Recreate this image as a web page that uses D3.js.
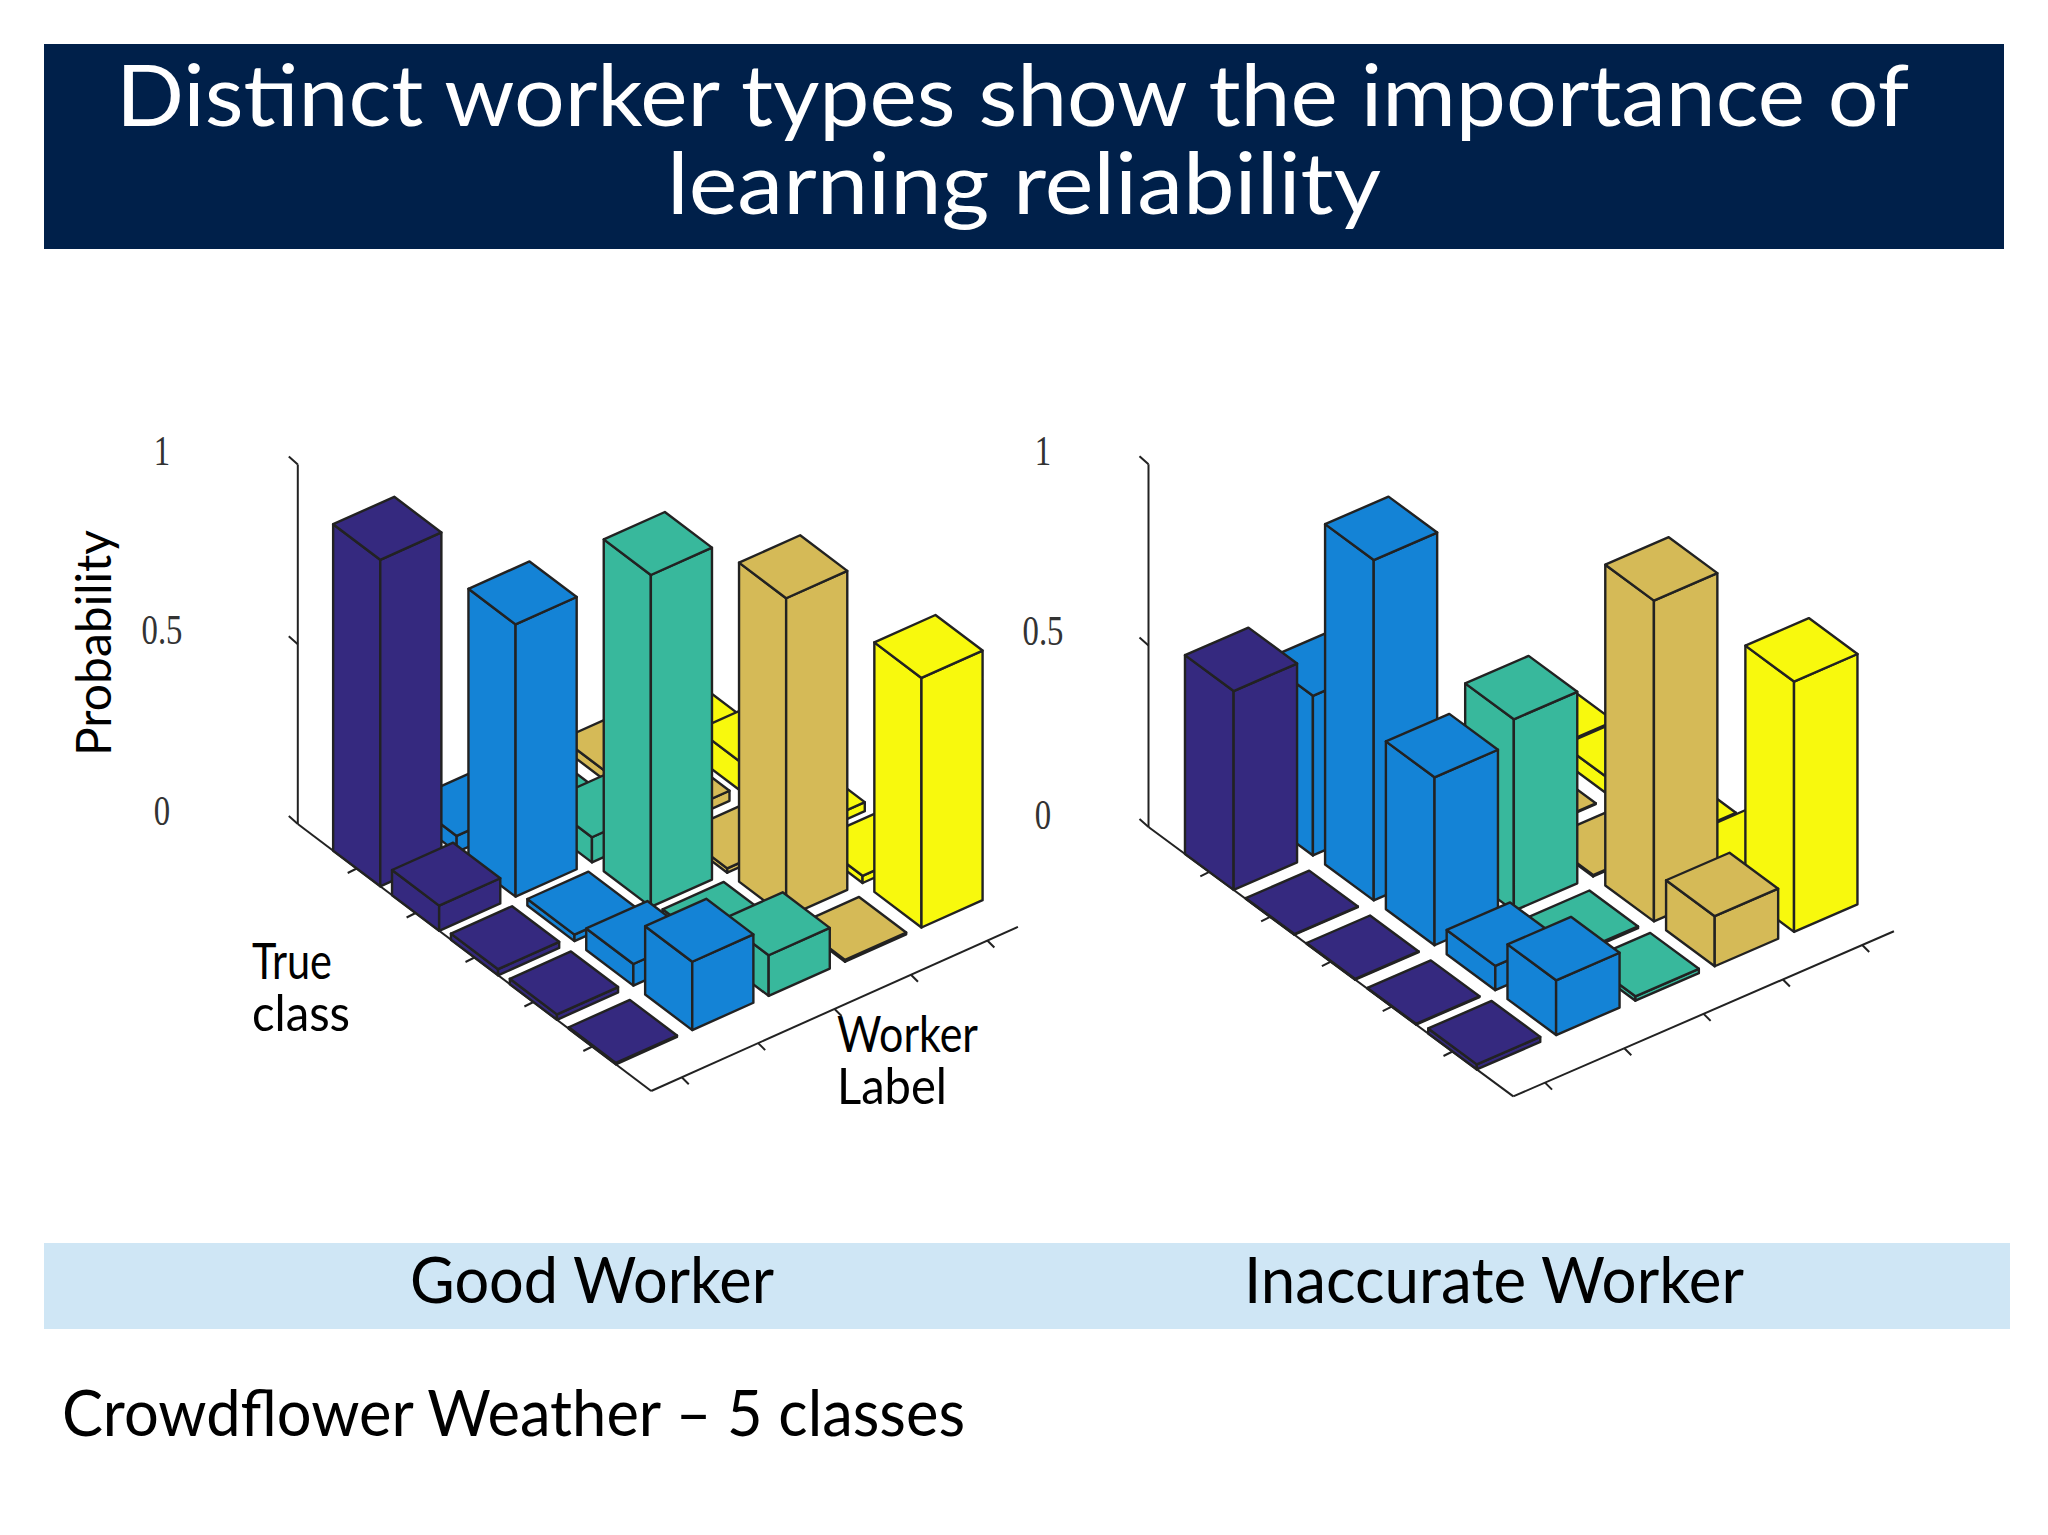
<!DOCTYPE html>
<html><head><meta charset="utf-8">
<script src="https://cdn.jsdelivr.net/npm/d3@7"></script>
<style>html,body{margin:0;padding:0;background:#fff}svg{display:block}</style>
</head><body><svg id="c" width="2048" height="1535"></svg>
<script>
const workerLabels = [1,2,3,4,5];
const classLabels = [1,2,3,4,5];
const zTicks = [0,0.5,1];
const workerColors = ["#35297f","#1483d6","#38b89c","#d5ba57","#f8f90d"];
// rows: true class 1..5, columns: worker label 1..5
const goodClass1 = [0.908,0.045,0.010,0.026,0.005];
const goodClass2 = [0.070,0.757,0.070,0.028,0.080];
const goodClass3 = [0.017,0.018,0.923,0.012,0.025];
const goodClass4 = [0.015,0.060,0.018,0.887,0.020];
const goodClass5 = [0.004,0.190,0.113,0.005,0.694];
const inaccClass1 = [0.548,0.440,0.010,0.003,0.010];
const inaccClass2 = [0.002,0.938,0.010,0.002,0.045];
const inaccClass3 = [0.002,0.463,0.528,0.004,0.005];
const inaccClass4 = [0.002,0.067,0.005,0.884,0.040];
const inaccClass5 = [0.014,0.151,0.012,0.138,0.690];
const good = [goodClass1,goodClass2,goodClass3,goodClass4,goodClass5];
const inaccurate = [inaccClass1,inaccClass2,inaccClass3,inaccClass4,inaccClass5];
const barWidth = 0.8;

const svg = d3.select("#c");
const navy = "#00204a";
svg.append("rect").attr("x",44).attr("y",44).attr("width",1960).attr("height",205).attr("fill",navy);
svg.append("rect").attr("x",44).attr("y",1243).attr("width",1966).attr("height",86).attr("fill","#cfe6f5");

function text(s,x,y,size,opts={}){
  const t = svg.append("text").attr("x",x).attr("y",y).text(s)
    .attr("font-family",opts.family||"Lato").attr("font-size",size)
    .attr("fill",opts.fill||"#000").attr("text-anchor",opts.anchor||"start");
  if(opts.len){t.attr("textLength",opts.len).attr("lengthAdjust","spacingAndGlyphs");}
  if(opts.transform)t.attr("transform",opts.transform);
  return t;
}
text("Distinct worker types show the importance of",116,126,86,{fill:"#fff",len:1793});
text("learning reliability",667,214,86,{fill:"#fff",len:714});
text("Good Worker",410,1303,64,{len:364});
text("Inaccurate Worker",1244,1303,64,{len:500});
text("Crowdflower Weather – 5 classes",62,1436,64,{len:903});
text("Probability",0,0,48,{len:226,transform:"translate(111,756) rotate(-90)"});
text("True",252,979,50,{len:80});
text("class",252,1031,50,{len:98});
text("Worker",837,1052,50,{len:141});
text("Label",837,1104,50,{len:110});

function panel(values,cfg){
  const g = svg.append("g");
  const wx = d3.scaleLinear().domain([0.6,5.4]).range([0,cfg.wv[0]*4.8]);
  const wy = d3.scaleLinear().domain([0.6,5.4]).range([0,cfg.wv[1]*4.8]);
  const cx = d3.scaleLinear().domain([0,6]).range([0,cfg.cv[0]*6]);
  const cy = d3.scaleLinear().domain([0,6]).range([0,cfg.cv[1]*6]);
  const zs = d3.scaleLinear().domain([0,1]).range([0,-cfg.zlen]);
  const P = (w,c,z)=>[cfg.o[0]+wx(w)+cx(c), cfg.o[1]+wy(w)+cy(c)+zs(z)];
  const line = d3.line();
  const axis = g.append("g").attr("stroke","#222").attr("stroke-width",2).attr("fill","none");
  const seg=(a,b)=>axis.append("path").attr("d",line([a,b]));
  seg(P(0.6,0,0),P(0.6,0,1));
  seg(P(0.6,0,0),P(0.6,6,0));
  seg(P(0.6,6,0),P(5.4,6,0));
  zTicks.forEach(z=>{const p=P(0.6,0,z);seg(p,[p[0]-9,p[1]-8]);});
  classLabels.forEach(c=>{const p=P(0.6,c,0);seg(p,[p[0]-9,p[1]+4.5]);});
  workerLabels.forEach(w=>{const p=P(w,6,0);seg(p,[p[0]+7,p[1]+7]);});
  zTicks.forEach((z,i)=>{
    svg.append("text").text(z)
      .attr("font-family","Liberation Serif").attr("font-size",42).attr("fill","#333")
      .attr("text-anchor","middle")
      .attr("transform",`translate(${cfg.labelX},${cfg.labelY[i]}) scale(0.78,1)`);
  });
  // painter's order: far corner (high worker, low class) first
  const h = barWidth/2;
  d3.range(workerLabels.length-1,-1,-1).forEach(wi=>{
    classLabels.forEach((cl,ci)=>{
      const w=workerLabels[wi], v=values[ci][wi], col=workerColors[wi];
      const L=z=>P(w-h,cl-h,z), B=z=>P(w+h,cl-h,z), F=z=>P(w-h,cl+h,z), R=z=>P(w+h,cl+h,z);
      const faces=[[L(0),F(0),F(v),L(v)],[F(0),R(0),R(v),F(v)],[L(v),B(v),R(v),F(v)]];
      g.append("g").selectAll("path").data(faces).join("path")
        .attr("d",d=>line(d)+"Z").attr("fill",col)
        .attr("stroke","#222").attr("stroke-width",2.4).attr("stroke-linejoin","round");
    });
  });
}
panel(good,{o:[297.8,824],wv:[76.4,-34.2],cv:[58.9,44.5],zlen:359.6,labelX:162,labelY:[825,644,465]});
panel(inaccurate,{o:[1148.5,827],wv:[79.3,-34.4],cv:[60.8,44.9],zlen:362.8,labelX:1043,labelY:[829,645,465]});
</script></body></html>
